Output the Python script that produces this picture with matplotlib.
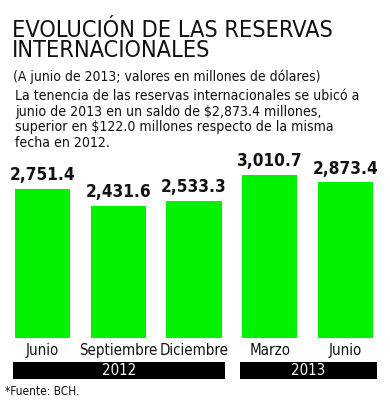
import matplotlib
matplotlib.use("Agg")
import matplotlib.pyplot as plt
from matplotlib.patches import Rectangle
from matplotlib.transforms import blended_transform_factory

months = ["Junio", "Septiembre", "Diciembre", "Marzo", "Junio"]
values = [2751.4, 2431.6, 2533.3, 3010.7, 2873.4]
years = ["2012", "2013"]
year_span = [(0, 2), (3, 4)]  # first/last bar index of each year

title_lines = ["EVOLUCIÓN DE LAS RESERVAS", "INTERNACIONALES"]
subtitle = "(A junio de 2013; valores en millones de dólares)"
paragraph = [
    "La tenencia de las reservas internacionales se ubicó a",
    "junio de 2013 en un saldo de $2,873.4 millones,",
    "superior en $122.0 millones respecto de la misma",
    "fecha en 2012.",
]
source = "*Fuente: BCH."

NARROW = dict(family=["DejaVu Sans"], stretch="condensed")
GREEN = "#00f200"
INK = "#111111"

fig = plt.figure(figsize=(3.9, 4.0), dpi=100)
fig.patch.set_facecolor("white")

# header text (multi-line baseline = last line)
fig.text(0.031, 0.8575, "\n".join(title_lines), fontsize=16.8, color=INK, va="baseline",
         linespacing=0.84, **NARROW)
fig.text(0.033, 0.7975, subtitle, fontsize=10.0, color=INK, va="baseline", **NARROW)
fig.text(0.038, 0.6325, "\n".join(paragraph), fontsize=10.1, color=INK, va="baseline",
         linespacing=1.14, **NARROW)

# bars
ax = fig.add_axes([0.0119, 0.155, 0.971, 0.4467])
x = list(range(len(values)))
bars = ax.bar(x, values, width=0.727, color=GREEN, edgecolor="none")
ax.set_xlim(-0.5, len(values) - 0.5)
ax.set_ylim(0, 3300)
ax.axis("off")

for rect, v in zip(bars, values):
    ax.annotate(f"{v:,.1f}", (rect.get_x() + rect.get_width() / 2, v),
                xytext=(0, 3.5), textcoords="offset points", ha="center", va="bottom",
                fontsize=12.3, fontweight="bold", color=INK, **NARROW)

# month labels
for xi, m in zip(x, months):
    ax.text(xi, -0.07, m, transform=blended_transform_factory(ax.transData, ax.transAxes),
            ha="center", va="center", fontsize=10.8, color=INK, **NARROW)

# year bands
trans = blended_transform_factory(ax.transData, fig.transFigure)
for yr, (i0, i1) in zip(years, year_span):
    x0, x1 = i0 - 0.39, i1 + 0.41
    fig.patches.append(Rectangle((x0, 0.0525), x1 - x0, 0.0425, transform=trans,
                                 facecolor="black", edgecolor="none"))
    fig.text((x0 + x1) / 2, 0.074, yr, transform=trans, ha="center", va="center",
             fontsize=10.8, color="white", **NARROW)

fig.text(0.012, 0.022, source, fontsize=8.6, color=INK, va="center", **NARROW)

fig.savefig("out.png", dpi=100)
